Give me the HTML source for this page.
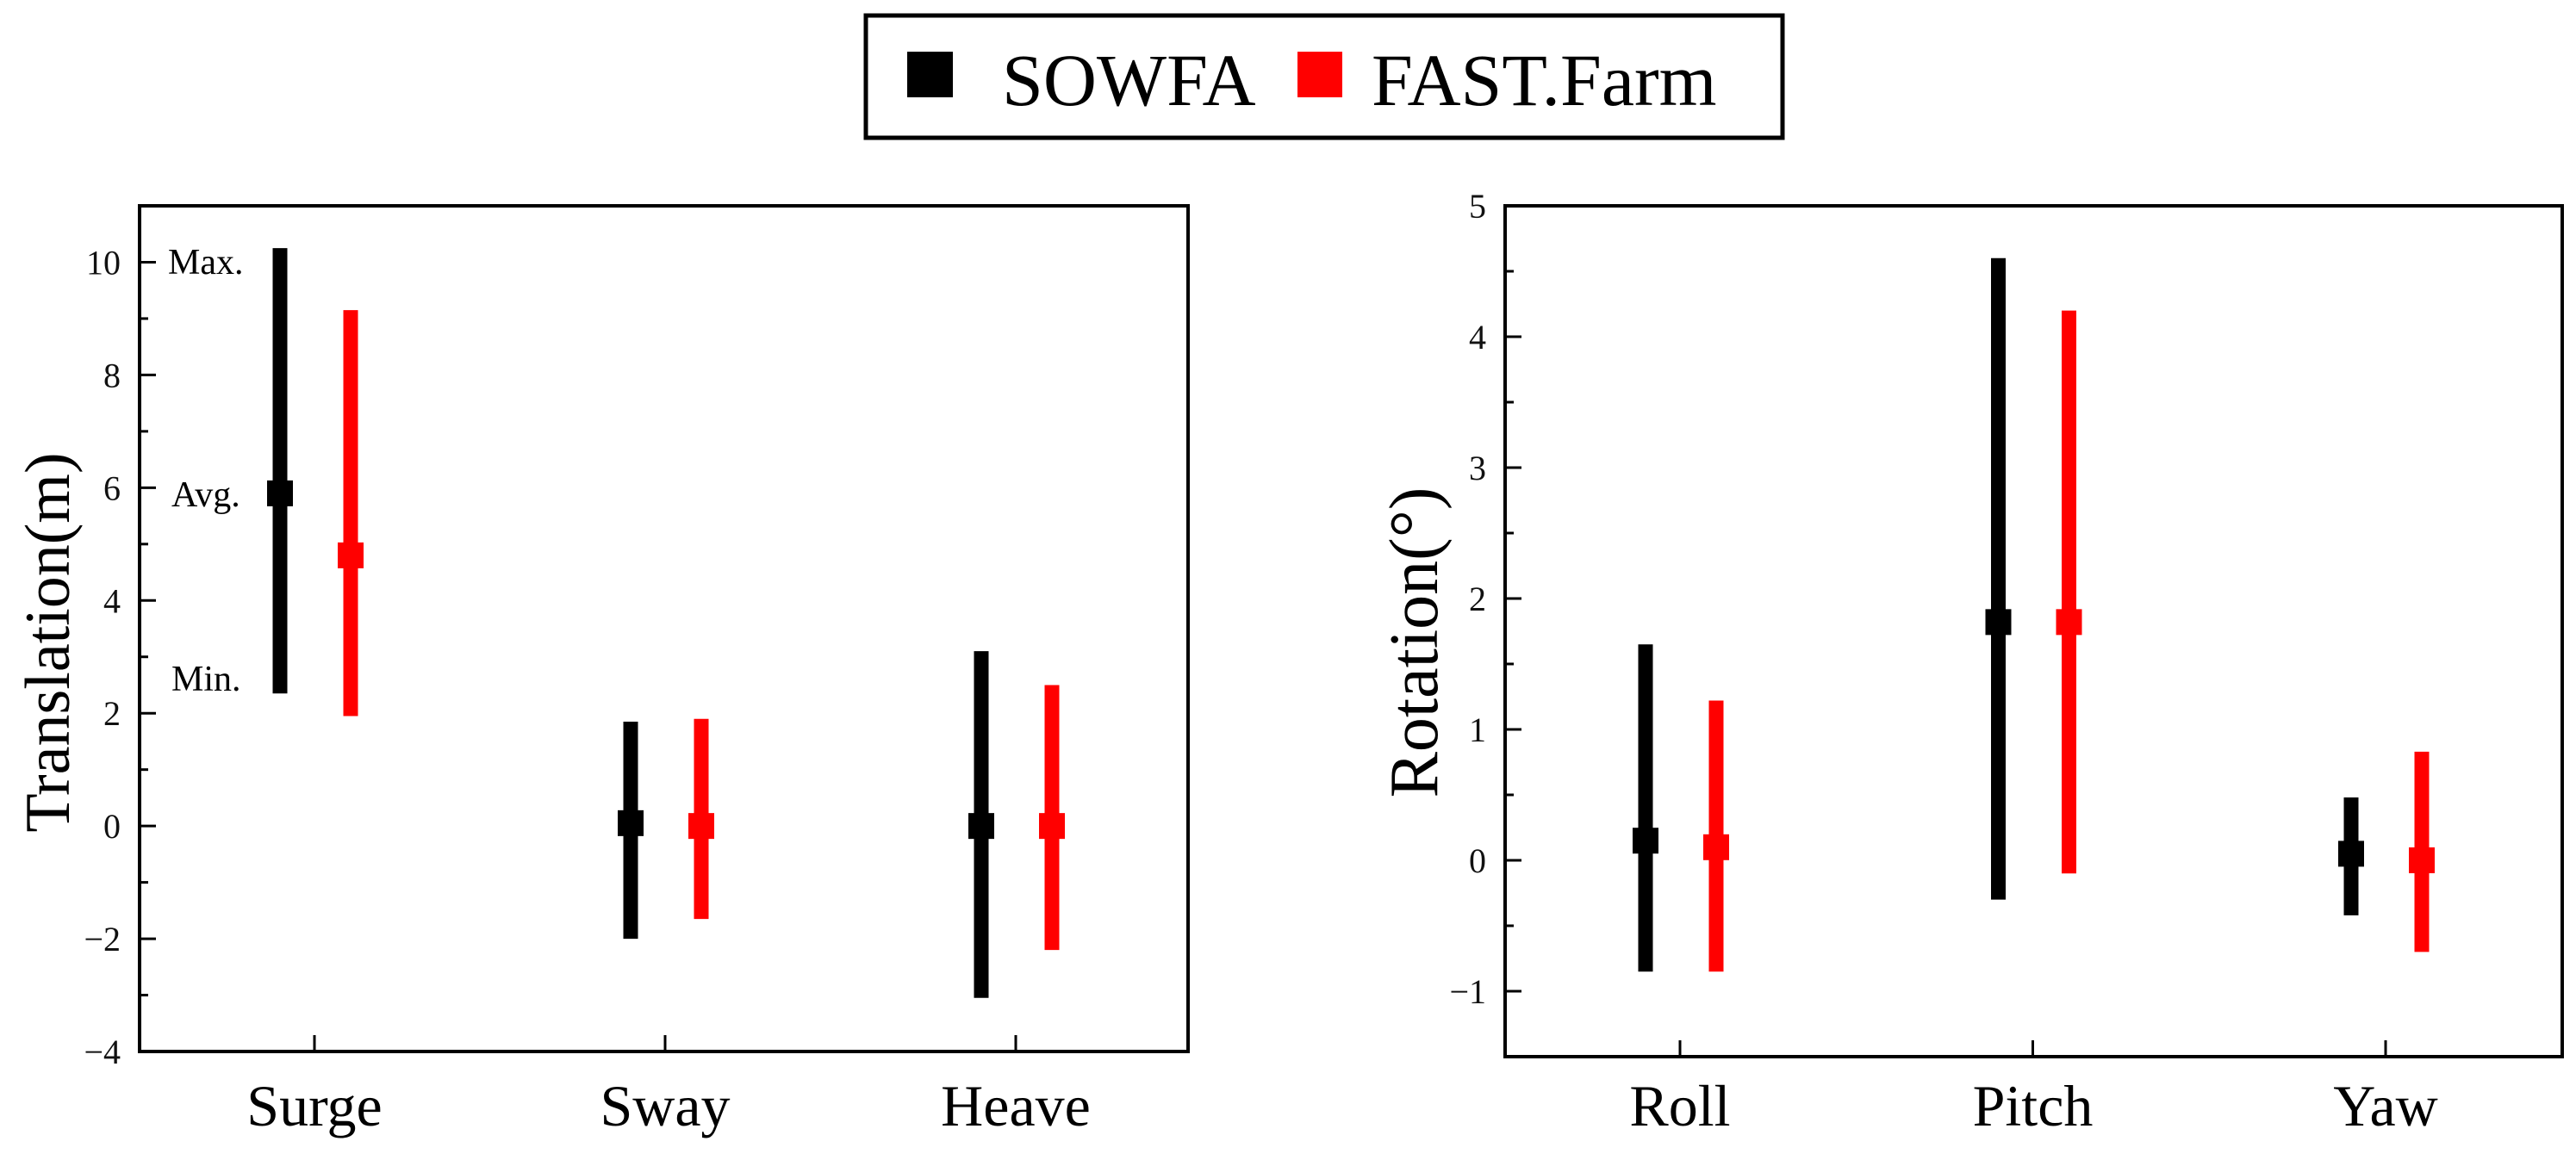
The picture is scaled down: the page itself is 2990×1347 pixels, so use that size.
<!DOCTYPE html>
<html><head><meta charset="utf-8">
<style>
html,body{margin:0;padding:0;background:#fff;}
svg{display:block;font-family:"Liberation Serif",serif;}
</style></head>
<body>
<svg id="chart" width="2990" height="1347" viewBox="0 0 2990 1347" xmlns="http://www.w3.org/2000/svg">
  <g>
    <rect x="1005" y="18" width="1064" height="142" fill="#fff" stroke="#000" stroke-width="5"/>
    <rect x="1053" y="60" width="53" height="53" fill="#000"/>
    <text x="1163" y="122" font-size="86">SOWFA</text>
    <rect x="1506" y="60" width="52" height="53" fill="#f00"/>
    <text x="1592" y="122" font-size="86">FAST.Farm</text>
  </g>
  <g id="left"></g>
  <g id="right"></g>
</svg>
<script>
// Translation panel data
const transCategories = ["Surge", "Sway", "Heave"];
const transSowfaMax = [10.25, 1.85, 3.1];
const transSowfaAvg = [5.9, 0.05, 0.0];
const transSowfaMin = [2.35, -2.0, -3.05];
const transFastMax = [9.15, 1.9, 2.5];
const transFastAvg = [4.8, 0.0, 0.0];
const transFastMin = [1.95, -1.65, -2.2];
const transTicks = [-4, -2, 0, 2, 4, 6, 8, 10];
// Rotation panel data
const rotCategories = ["Roll", "Pitch", "Yaw"];
const rotSowfaMax = [1.65, 4.6, 0.48];
const rotSowfaAvg = [0.15, 1.82, 0.05];
const rotSowfaMin = [-0.85, -0.3, -0.42];
const rotFastMax = [1.22, 4.2, 0.83];
const rotFastAvg = [0.1, 1.82, 0.0];
const rotFastMin = [-0.85, -0.1, -0.7];
const rotTicks = [-1, 0, 1, 2, 3, 4, 5];

const NS = "http://www.w3.org/2000/svg";
function mk(parent, tag, attrs, text) {
  const e = document.createElementNS(NS, tag);
  for (const k in attrs) e.setAttribute(k, attrs[k]);
  if (text !== undefined) e.textContent = text;
  parent.appendChild(e);
  return e;
}

function panel(g, cfg) {
  const {x0, x1, y0, y1, vmin, vmax, cats, ticks, minorStep, catX0, catStep, sMax, sAvg, sMin, fMax, fAvg, fMin, title, titleX, titleSize} = cfg;
  const ys = v => y1 - (v - vmin) / (vmax - vmin) * (y1 - y0);
  const xs = i => catX0 + i * catStep;
  const frame = mk(g, "rect", {x: x0, y: y0, width: x1 - x0, height: y1 - y0, fill: "none", stroke: "#000", "stroke-width": 4});
  
  
  for (let v = Math.ceil(vmin / minorStep) * minorStep; v <= vmax + 1e-9; v += minorStep) {
    const isMajor = ticks.some(t => Math.abs(t - v) < 1e-9);
    const t = mk(g, "line", {x1: x0, x2: x0 + (isMajor ? 19 : 10), y1: ys(v), y2: ys(v), stroke: "#000", "stroke-width": 3});
    
    
  }
  ticks.forEach(v => {
    const lbl = mk(g, "text", {x: x0 - 22, y: ys(v) + 14, "font-size": 40, "text-anchor": "end", fill: "#111"}, v < 0 ? "\u2212" + Math.abs(v) : String(v));
    
    
  });
  cats.forEach((c, i) => {
    const t = mk(g, "line", {x1: xs(i), x2: xs(i), y1: y1, y2: y1 - 19, stroke: "#000", "stroke-width": 3});
    
    
    const l = mk(g, "text", {x: xs(i), y: 1307, "font-size": 68, "text-anchor": "middle"}, c);
    
    
  });
  const series = [
    {mx: sMax, av: sAvg, mn: sMin, off: -40, col: "#000", name: "sowfa"},
    {mx: fMax, av: fAvg, mn: fMin, off: 42, col: "#f00", name: "fastfarm"}
  ];
  series.forEach(s => {
    cats.forEach((c, i) => {
      const cx = xs(i) + s.off;
      const bar = mk(g, "line", {x1: cx, x2: cx, y1: ys(s.mx[i]), y2: ys(s.mn[i]), stroke: s.col, "stroke-width": 17});
      
      
      const m = mk(g, "rect", {x: cx - 15, y: ys(s.av[i]) - 15, width: 30, height: 30, fill: s.col});
      
      
    });
  });
  const tt = mk(g, "text", {x: titleX, y: 746, "font-size": titleSize, "text-anchor": "middle", transform: `rotate(-90 ${titleX} 746)`, "dominant-baseline": "central"}, title);
  
  
  return ys;
}

panel(document.getElementById("left"), {
  x0: 162, x1: 1379, y0: 239, y1: 1221, vmin: -4, vmax: 11.0,
  cats: transCategories, ticks: transTicks, minorStep: 1,
  catX0: 365, catStep: 407,
  sMax: transSowfaMax, sAvg: transSowfaAvg, sMin: transSowfaMin,
  fMax: transFastMax, fAvg: transFastAvg, fMin: transFastMin,
  title: "Translation(m)", titleX: 56, titleSize: 74
});
panel(document.getElementById("right"), {
  x0: 1747, x1: 2974, y0: 239, y1: 1227, vmin: -1.5, vmax: 5,
  cats: rotCategories, ticks: rotTicks, minorStep: 0.5,
  catX0: 1950, catStep: 409.5,
  sMax: rotSowfaMax, sAvg: rotSowfaAvg, sMin: rotSowfaMin,
  fMax: rotFastMax, fAvg: rotFastAvg, fMin: rotFastMin,
  title: "Rotation(\u00B0)", titleX: 1642, titleSize: 80
});
const lg = document.getElementById("left");
const ann = [["Max.", 195, 318], ["Avg.", 199, 588], ["Min.", 199, 802]];
ann.forEach(a => {
  const t = mk(lg, "text", {x: a[1], y: a[2], "font-size": 42}, a[0]);
  
  
});
</script>
</body></html>
